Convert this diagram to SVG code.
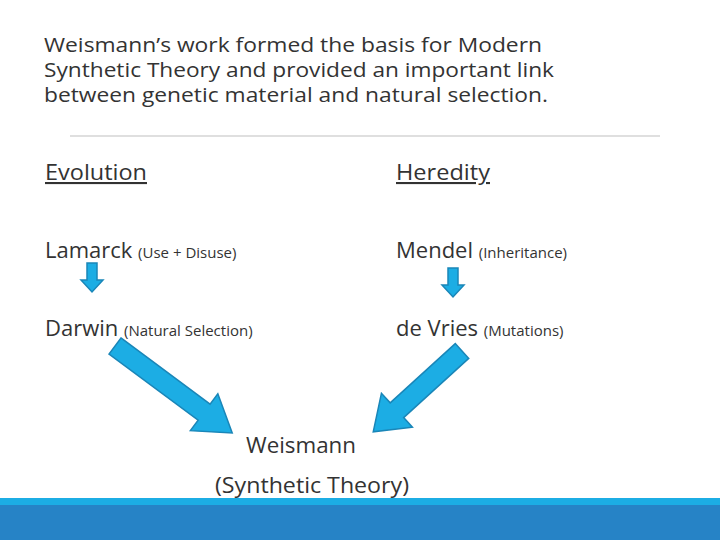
<svg xmlns="http://www.w3.org/2000/svg" width="720" height="540" viewBox="0 0 720 540">
<style>
text{font-family:"Open Sans","Liberation Sans",sans-serif;fill:#333;}
.t{font-size:20px}
.m{font-size:22px}
.s{font-size:15px}
.u{text-decoration:underline;font-size:21px}
.ar{fill:#1CADE4;stroke:#1A86B8;stroke-width:1.5}
</style>
<rect width="720" height="540" fill="#fff"/>
<text class="t" x="44" y="52" textLength="498" lengthAdjust="spacingAndGlyphs">Weismann’s work formed the basis for Modern</text>
<text class="t" x="44" y="77" textLength="510" lengthAdjust="spacingAndGlyphs">Synthetic Theory and provided an important link</text>
<text class="t" x="44" y="102" textLength="504" lengthAdjust="spacingAndGlyphs">between genetic material and natural selection.</text>
<line x1="70" y1="136" x2="660" y2="136" stroke="#bfbfbf" stroke-width="1"/>
<g id="evolution"><text class="u" x="45" y="180" textLength="102" lengthAdjust="spacingAndGlyphs">Evolution</text></g>
<g id="heredity"><text class="u" x="396" y="180" textLength="94" lengthAdjust="spacingAndGlyphs">Heredity</text></g>
<g id="lamarck"><text x="45" y="258"><tspan class="m">Lamarck </tspan><tspan class="s">(Use + Disuse)</tspan></text></g>
<g id="mendel"><text x="396" y="258"><tspan class="m">Mendel </tspan><tspan class="s">(Inheritance)</tspan></text></g>
<g id="darwin"><text x="45" y="336"><tspan class="m">Darwin </tspan><tspan class="s">(Natural Selection)</tspan></text></g>
<g id="devries"><text x="396" y="336"><tspan class="m">de Vries </tspan><tspan class="s">(Mutations)</tspan></text></g>
<g id="weismann">
<text class="m" x="301" y="453" text-anchor="middle" textLength="110" lengthAdjust="spacingAndGlyphs">Weismann</text>
<text class="m" x="312" y="493" text-anchor="middle" textLength="194" lengthAdjust="spacingAndGlyphs">(Synthetic Theory)</text>
</g>
<g id="connectors">
<path class="ar" d="M87,263 h10 v17 h6 l-11,12 l-11,-12 h6 z"/>
<path class="ar" d="M448,268 h10 v17 h6 l-11,12 l-11,-12 h6 z"/>
<path class="ar" transform="translate(115,346) rotate(36.6)" d="M0,-10 H111 V-23 L146,0 L111,23 V10 H0 Z"/>
<path class="ar" transform="translate(462,351) rotate(137.7)" d="M0,-10 H88 V-23 L120,0 L88,23 V10 H0 Z"/>
</g>
<rect x="0" y="498" width="720" height="8" fill="#1CADE4"/>
<rect x="0" y="505" width="720" height="35" fill="#2683C6"/>
</svg>
